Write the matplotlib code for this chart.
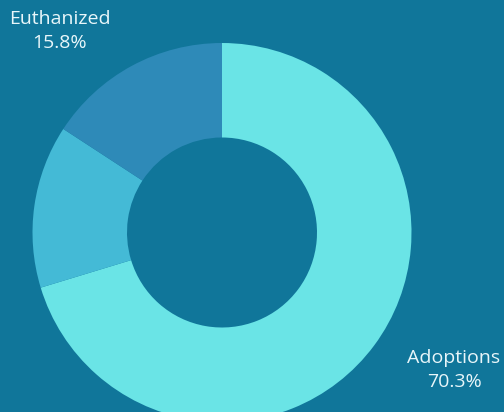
import matplotlib
matplotlib.use('Agg')
import matplotlib.pyplot as plt

labels = ['Adoptions', 'Other', 'Euthanized']
shares = [70.3, 13.9, 15.8]
colors = ['#6ae4e6', '#44bad6', '#2e8ab8']
shown = {'Adoptions': (454, 42), 'Euthanized': (60, 381)}

bg = '#10769a'
fig = plt.figure(figsize=(5.04, 4.12), dpi=100, facecolor=bg)
ax = fig.add_axes([0, 0, 1, 1])
ax.set_facecolor(bg)

ax.pie(shares, colors=colors, startangle=90, counterclock=False,
       radius=189.5, center=(222, 179.5),
       wedgeprops=dict(width=94.5, linewidth=0))

for name, val in zip(labels, shares):
    if name in shown:
        x, y = shown[name]
        ax.text(x, y, '{}\n{:.1f}%'.format(name, val), ha='center', va='center',
                color='#e8f6fa', fontsize=14, family='Open Sans', linespacing=1.45)

ax.set_xlim(0, 504)
ax.set_ylim(0, 412)
ax.set_aspect('equal')
ax.axis('off')
fig.savefig('out.png', dpi=100, facecolor=bg)
